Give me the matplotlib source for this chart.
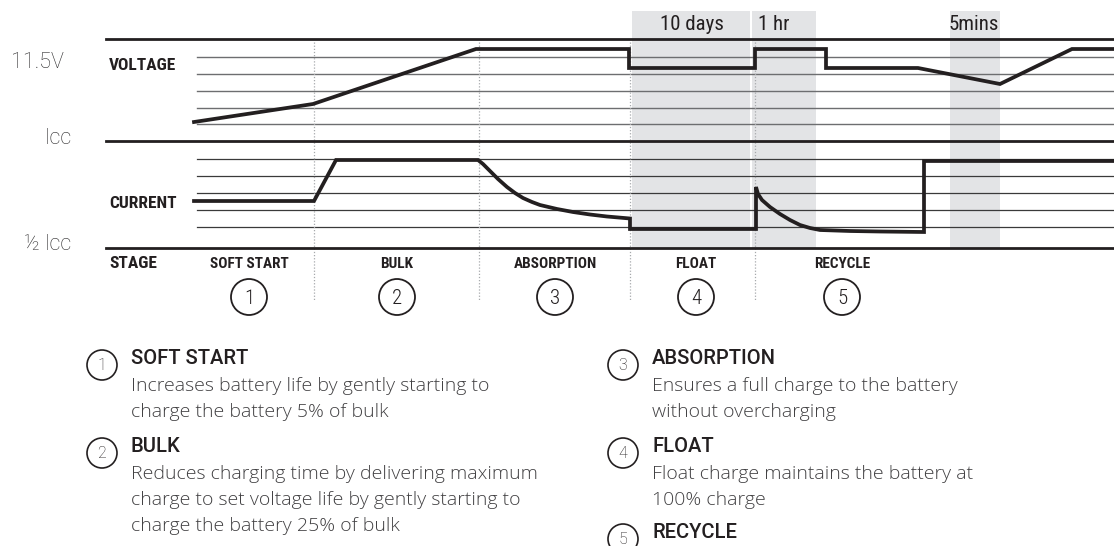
import matplotlib
matplotlib.use("Agg")
import matplotlib.pyplot as plt
from matplotlib.patches import Circle, Rectangle

# waveform data (pixel-like units)
voltage_x = [194, 313, 476, 629, 629, 755, 755, 826, 826, 918, 1000, 1072, 1114]
voltage_y = [122, 104, 49, 49, 68, 68, 49, 49, 68, 68, 84, 49, 49]

current_x = [194, 314, 336, 478, 483, 490, 498, 507, 515, 523, 532, 540, 557, 573,
             590, 607, 630, 630, 756, 756, 758, 762, 770, 780, 790, 800, 810, 820,
             850, 880, 924, 924, 1114]
current_y = [201, 201, 160, 160, 164, 171, 179, 187, 193, 198, 202, 205, 209, 212,
             214.5, 216.5, 218.5, 229, 229, 187, 194, 200, 207, 214, 220, 225, 228,
             230, 231, 231.5, 232, 161, 161]

volt_grid = [57, 74, 91, 108, 124]
curr_grid = [159, 176, 193, 210, 227]
frame_lines = [39, 141, 248]
stage_bounds = [314, 479, 630, 755]

band_start = [632, 752, 950]
band_end = [750, 816, 1000]
band_labels = ["10 days", "1 hr", "5mins"]
band_label_x = [692, 774, 974]

stages = ["SOFT START", "BULK", "ABSORPTION", "FLOAT", "RECYCLE"]
stage_x = [249, 397, 555, 696, 842]

legend_titles = ["SOFT START", "BULK", "ABSORPTION", "FLOAT", "RECYCLE"]
legend_lines = [
    ["Increases battery life by gently starting to", "charge the battery 5% of bulk"],
    ["Reduces charging time by delivering maximum",
     "charge to set voltage life by gently starting to",
     "charge the battery 25% of bulk"],
    ["Ensures a full charge to the battery", "without overcharging"],
    ["Float charge maintains the battery at", "100% charge"],
    [],
]
legend_col_x = [102, 102, 623, 623, 623]
legend_row_y = [359, 447, 359, 447, 533]

INK = "#231f20"
COND = ["Roboto Condensed", "DejaVu Sans"]
LIGHT = ["Roboto", "DejaVu Sans"]
BODY = ["Open Sans", "DejaVu Sans"]
cond = dict(family=COND, fontstretch="condensed", color=INK)

fig = plt.figure(figsize=(11.14, 5.46), dpi=100)
ax = fig.add_axes([0, 0, 1, 1])
ax.set_xlim(0, 1114)
ax.set_ylim(546, 0)
ax.axis("off")

# shaded time bands
for x0, x1, lab, lx in zip(band_start, band_end, band_labels, band_label_x):
    ax.add_patch(Rectangle((x0, 11), x1 - x0, 248 - 11, color="#e3e4e6", lw=0, zorder=0))
    ax.text(lx, 25, lab, ha="center", va="center", fontsize=15, **cond)

# grid lines
for y in volt_grid:
    ax.plot([197, 1114], [y, y], color="#6d6e70", lw=1.0, zorder=1)
for y in curr_grid:
    ax.plot([197, 1114], [y, y], color="#3a3a3a", lw=0.9, zorder=1)
for y in frame_lines:
    ax.plot([106, 1114], [y, y], color=INK, lw=2.0, zorder=2)

# stage boundaries
for x in stage_bounds:
    ax.plot([x, x], [42, 300], color="#a7a9ac", lw=0.9, ls=(0, (1, 1.5)), zorder=1)

# waveforms
ax.plot(voltage_x, voltage_y, color=INK, lw=2.7, solid_joinstyle="miter", zorder=3)
ax.plot(current_x, current_y, color=INK, lw=2.7, solid_joinstyle="miter", zorder=3)

# left labels
left = dict(ha="right", va="center", fontsize=15.5, family=LIGHT, fontweight="light",
            color="#2b2a2b")
ax.text(64, 63, "11.5V", **left)
ax.text(71, 138, "lcc", **left)
ax.text(71, 245, "\u00bd lcc", **left)
for y, lab in zip([66, 204, 263], ["VOLTAGE", "CURRENT", "STAGE"]):
    ax.text(109, y, lab, ha="left", va="center", fontsize=12.5, fontweight="bold", **cond)

# stage names and numbered circles
for i, (sx, name) in enumerate(zip(stage_x, stages)):
    ax.text(sx, 264, name, ha="center", va="center", fontsize=11, fontweight="bold", **cond)
    ax.add_patch(Circle((sx, 297), 18, fill=False, ec=INK, lw=1.3, zorder=3))
    ax.text(sx, 298, str(i + 1), ha="center", va="center", fontsize=15,
            fontweight="light", **cond)

# legend
for i, (title, lines) in enumerate(zip(legend_titles, legend_lines)):
    cx, cy = legend_col_x[i], legend_row_y[i]
    ax.add_patch(Circle((cx, cy + 6), 15, fill=False, ec=INK, lw=1.2))
    ax.text(cx, cy + 6, str(i + 1), ha="center", va="center", fontsize=11.5,
            family=LIGHT, fontweight="light", color=INK)
    ax.text(cx + 29, cy, title, ha="left", va="center", fontsize=14.5, family=LIGHT,
            fontweight="medium", color=INK)
    for j, line in enumerate(lines):
        ax.text(cx + 29, cy + 27 + 26 * j, line, ha="left", va="center", fontsize=14,
                family=BODY, fontweight="light", color="#414042")

fig.savefig("out.png", dpi=100)
